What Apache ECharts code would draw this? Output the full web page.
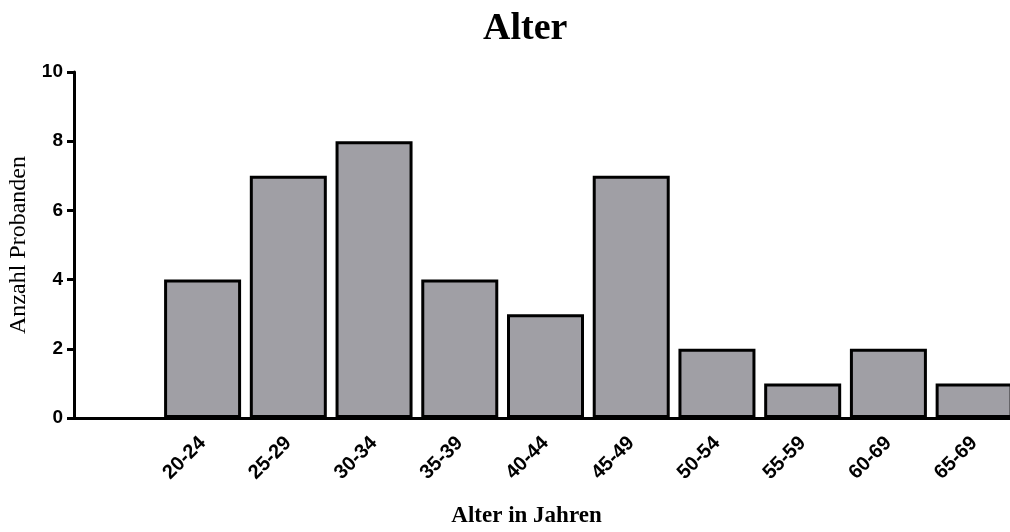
<!DOCTYPE html>
<html>
<head>
<meta charset="utf-8">
<script src="https://cdn.jsdelivr.net/npm/echarts@6/dist/echarts.min.js"></script>
<style>html,body{margin:0;padding:0;background:#fff}#c{width:1010px;height:532px}</style>
</head>
<body>
<div id="c"></div>
<script>
var categories = ['', '20-24', '25-29', '30-34', '35-39', '40-44', '45-49', '50-54', '55-59', '60-69', '65-69'];
var counts = [null, 4, 7, 8, 4, 3, 7, 2, 1, 2, 1];
var yTicks = [0, 2, 4, 6, 8, 10];
var titleText = 'Alter';
var xName = 'Alter in Jahren';
var yName = 'Anzahl Probanden';

var chart = echarts.init(document.getElementById('c'), null, {renderer: 'canvas'});
chart.setOption({
  animation: false,
  backgroundColor: '#ffffff',
  title: {
    text: titleText,
    left: 478,
    top: 5,
    textStyle: {fontFamily: 'Liberation Serif', fontWeight: 'bold', fontSize: 38, color: '#000'}
  },
  grid: {left: 74, right: -7, top: 72, bottom: 114, containLabel: false, outerBoundsMode: 'none'},
  xAxis: {
    type: 'category',
    data: categories,
    name: xName,
    nameLocation: 'middle',
    nameGap: 87,
    nameTextStyle: {fontFamily: 'Liberation Serif', fontWeight: 'bold', fontSize: 23, color: '#000', padding: [0, 38, 0, 0]},
    axisLine: {lineStyle: {color: '#000', width: 3}},
    axisTick: {show: false},
    axisLabel: {
      rotate: 45,
      margin: 22,
      interval: 0,
      fontFamily: 'Liberation Sans',
      fontWeight: 'bold',
      fontSize: 20,
      color: '#000'
    }
  },
  yAxis: {
    type: 'value',
    min: yTicks[0],
    max: yTicks[yTicks.length - 1],
    interval: 2,
    name: yName,
    nameLocation: 'middle',
    nameGap: 41,
    nameTextStyle: {fontFamily: 'Liberation Serif', fontSize: 24, color: '#000'},
    splitLine: {show: false},
    axisLine: {show: true, lineStyle: {color: '#000', width: 3}},
    axisTick: {show: true, length: 7, lineStyle: {color: '#000', width: 3}},
    axisLabel: {
      margin: 11,
      fontFamily: 'Liberation Sans',
      fontWeight: 'bold',
      fontSize: 19,
      color: '#000'
    }
  },
  series: [{
    type: 'bar',
    data: counts,
    barWidth: 77,
    itemStyle: {color: '#a09fa5', borderColor: '#000', borderWidth: 3},
    z: 1
  }]
});
</script>
</body>
</html>
